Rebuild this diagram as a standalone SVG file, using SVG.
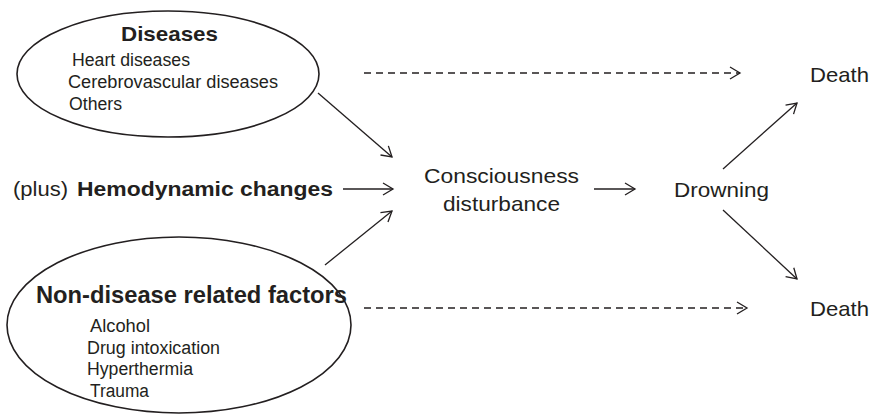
<svg xmlns="http://www.w3.org/2000/svg" width="873" height="416" viewBox="0 0 873 416">
<style>
text{font-family:"Liberation Sans",Arial,sans-serif;fill:#231f20}
.b{font-weight:bold}
.n{fill:none;stroke:#231f20;stroke-width:1.6}
.c{fill:none;stroke:#231f20;stroke-width:1.3}
.d{stroke-dasharray:7 5}
</style>
<defs>
<marker id="ah" viewBox="-12 -8 14 16" refX="0" refY="0" markerWidth="14" markerHeight="16" markerUnits="userSpaceOnUse" orient="auto">
<path d="M-10,-6 L0,0 L-10,6" fill="none" stroke="#231f20" stroke-width="1.3"/>
</marker>
</defs>
<rect width="873" height="416" fill="#fff"/>
<g id="diseases">
<ellipse class="n" cx="168" cy="74" rx="151" ry="63"/>
<text class="b" x="121" y="40.5" font-size="21" textLength="97" lengthAdjust="spacingAndGlyphs">Diseases</text>
<text x="72" y="65.5" font-size="17.5" textLength="118" lengthAdjust="spacingAndGlyphs">Heart diseases</text>
<text x="68" y="88" font-size="17.5" textLength="210" lengthAdjust="spacingAndGlyphs">Cerebrovascular diseases</text>
<text x="69" y="110" font-size="17.5" textLength="53" lengthAdjust="spacingAndGlyphs">Others</text>
</g>
<g id="nondisease">
<ellipse class="n" cx="179" cy="325" rx="172" ry="88"/>
<text class="b" x="36" y="303" font-size="24" textLength="311" lengthAdjust="spacingAndGlyphs">Non-disease related factors</text>
<text x="90" y="332" font-size="18" textLength="60" lengthAdjust="spacingAndGlyphs">Alcohol</text>
<text x="87" y="353.5" font-size="18" textLength="133" lengthAdjust="spacingAndGlyphs">Drug intoxication</text>
<text x="87" y="375" font-size="18" textLength="106" lengthAdjust="spacingAndGlyphs">Hyperthermia</text>
<text x="90" y="397" font-size="18" textLength="59" lengthAdjust="spacingAndGlyphs">Trauma</text>
</g>
<g id="hemodynamic">
<text x="13" y="196" font-size="20" textLength="55" lengthAdjust="spacingAndGlyphs">(plus)</text>
<text class="b" x="77" y="196" font-size="20" textLength="256" lengthAdjust="spacingAndGlyphs">Hemodynamic changes</text>
</g>
<g id="consciousness">
<text x="424" y="183" font-size="21" textLength="155" lengthAdjust="spacingAndGlyphs">Consciousness</text>
<text x="443" y="211" font-size="21" textLength="117" lengthAdjust="spacingAndGlyphs">disturbance</text>
</g>
<g id="drowning">
<text x="674" y="197" font-size="21" textLength="95" lengthAdjust="spacingAndGlyphs">Drowning</text>
</g>
<g id="death1">
<text x="810" y="82" font-size="21" textLength="59" lengthAdjust="spacingAndGlyphs">Death</text>
</g>
<g id="death2">
<text x="810" y="316" font-size="21" textLength="59" lengthAdjust="spacingAndGlyphs">Death</text>
</g>
<g id="connectors">
<line class="c" x1="318" y1="93" x2="392" y2="157" marker-end="url(#ah)"/>
<line class="c" x1="343" y1="189" x2="393" y2="189" marker-end="url(#ah)"/>
<line class="c" x1="325" y1="265" x2="392" y2="211" marker-end="url(#ah)"/>
<line class="c" x1="594" y1="189" x2="635" y2="189" marker-end="url(#ah)"/>
<line class="c" x1="723" y1="169" x2="797" y2="103" marker-end="url(#ah)"/>
<line class="c" x1="723" y1="210" x2="797" y2="279" marker-end="url(#ah)"/>
<line class="c d" x1="364" y1="73" x2="740" y2="73" marker-end="url(#ah)"/>
<line class="c d" x1="364" y1="308" x2="747" y2="308" marker-end="url(#ah)"/>
</g>
</svg>
